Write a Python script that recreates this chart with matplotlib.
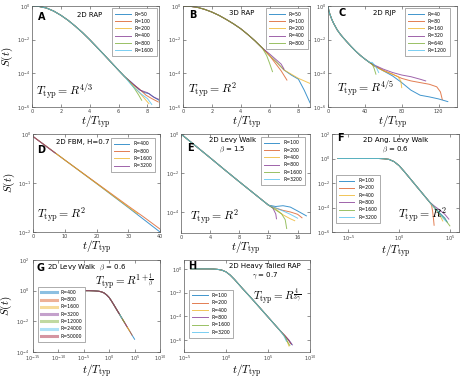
import numpy as np
import matplotlib
matplotlib.use("Agg")
import matplotlib.pyplot as plt
from matplotlib.ticker import NullLocator

plt.rcParams['mathtext.fontset'] = 'cm'
plt.rcParams['font.family'] = 'DejaVu Sans'

# matlab default line colours
COLORS = ["#0072BD", "#D95319", "#EDB120", "#7E2F8E", "#77AC30", "#4DBEEE", "#A2142F"]

# ---- data (x = t/T_typ, y = log10 S(t)); shared body + per-R tail ----
# A: 2D RAP
A_R = [50, 100, 200, 400, 800, 1600]
A_body_x = [0, 0.5, 1, 1.5, 2, 2.5, 3, 3.5, 4, 4.5, 5, 5.5, 6, 6.4]
A_body_y = [0, -0.03, -0.12, -0.3, -0.55, -0.85, -1.2, -1.58, -2.0, -2.45, -2.9, -3.36, -3.82, -4.18]
A_tail_x = [[6.9, 7.4, 7.8, 8.1, 8.5, 8.8], [6.9, 7.4, 7.9, 8.3, 8.75], [6.8, 7.3, 7.8, 8.1],
            [6.9, 7.5, 8.0, 8.4, 8.8], [6.7, 7.1, 7.4, 7.6], [6.8, 7.2, 7.6, 8.0, 8.3]]
A_tail_y = [[-4.55, -4.95, -5.15, -5.2, -5.45, -5.6], [-4.6, -4.9, -5.3, -5.5, -5.7], [-4.5, -5.0, -5.5, -5.8],
            [-4.55, -5.0, -5.15, -5.4, -5.55], [-4.45, -4.9, -5.3, -5.6], [-4.6, -4.95, -5.25, -5.5, -5.85]]

# B: 3D RAP
B_R = [50, 100, 200, 400, 800]
B_body_x = [0, 0.5, 1, 1.5, 2, 2.5, 3, 3.5, 4, 4.5, 5, 5.5]
B_body_y = [0, -0.02, -0.08, -0.2, -0.36, -0.56, -0.8, -1.06, -1.35, -1.7, -2.08, -2.5]
B_tail_x = [[6.0, 6.5, 7.0, 7.5, 8.0, 8.4, 8.8], [6.0, 6.4, 6.8, 7.2], [6.0, 6.5, 7.0, 7.5, 8.0, 8.4, 8.8],
            [6.0, 6.4, 6.8, 7.0], [5.8, 6.0, 6.2]]
B_tail_y = [[-2.95, -3.35, -3.8, -4.1, -4.35, -5.0, -5.75], [-2.95, -3.4, -3.85, -4.4],
            [-2.95, -3.35, -3.8, -4.05, -4.3, -4.45, -4.6], [-2.85, -3.15, -3.45, -3.75], [-2.95, -3.4, -3.9]]

# C: 2D RJP
C_R = [40, 80, 160, 320, 640, 1200]
C_body_x = [0, 1, 2, 4, 6, 8, 10, 13, 16, 20, 25, 30, 35, 40, 45]
C_body_y = [0, -0.3, -0.48, -0.78, -1.02, -1.22, -1.42, -1.65, -1.85, -2.1, -2.4, -2.68, -2.93, -3.15, -3.35]
C_tail_x = [[50, 60, 70, 80, 90, 100, 110, 120, 130], [50, 60, 70, 80, 90, 100, 110, 118, 122, 124],
            [50, 60, 70, 76, 79, 80], [50, 60, 70, 80, 90, 100, 106], [48, 50, 52], [48, 52, 55]]
C_tail_y = [[-3.55, -3.85, -4.15, -4.55, -5.0, -5.3, -5.4, -5.52, -5.68],
            [-3.55, -3.82, -4.05, -4.3, -4.45, -4.55, -4.65, -4.8, -5.1, -5.55],
            [-3.55, -3.85, -4.05, -4.2, -4.45, -4.85], [-3.5, -3.75, -3.95, -4.1, -4.2, -4.35, -4.45],
            [-3.45, -3.7, -4.05], [-3.35, -3.6, -3.95]]

# D: 2D FBM
D_R = [400, 800, 1600, 3200]
D_x = [[0, 10, 20, 30, 35, 40], [0, 10, 20, 30, 35, 40], [0, 10, 20, 30, 33], [0, 7]]
D_y = [[-0.05, -0.53, -1.01, -1.5, -1.75, -2.0], [-0.05, -0.53, -1.0, -1.47, -1.7, -1.94],
       [-0.05, -0.53, -1.01, -1.49, -1.63], [-0.05, -0.39]]

# E: 2D Levy walk beta=1.5
E_R = [100, 200, 400, 800, 1600, 3200]
E_body_x = [0, 2, 4, 6, 8, 10, 11, 12]
E_body_y = [0, -0.61, -1.22, -1.84, -2.45, -3.05, -3.35, -3.65]
E_tail_x = [[13, 14, 15, 16, 17.2], [13, 14, 15, 16, 16.6], [13, 14, 15, 15.6], [12.6, 13.0, 13.1],
            [13, 13.8, 14.3, 14.5], [13, 14, 15, 16]]
E_tail_y = [[-3.72, -3.68, -3.75, -3.95, -4.2], [-3.8, -3.92, -4.0, -4.12, -4.3], [-3.85, -4.15, -4.35, -4.45],
            [-3.8, -4.1, -4.35], [-3.9, -4.1, -4.4, -4.85], [-3.8, -3.95, -4.12, -4.32]]

# F: 2D angular Levy walk (log10 x)
F_R = [100, 200, 400, 800, 1600, 3200]
F_body_x = [-6, -4, -2, -1.5, -1, -0.5, 0, 0.5, 1, 1.5, 2, 2.5, 3]
F_body_y = [0, 0, 0, -0.02, -0.07, -0.25, -0.58, -1.05, -1.55, -2.05, -2.55, -3.05, -3.55]
F_tail_x = [[3.5, 4.0, 4.5, 4.75], [3.2, 3.3, 3.4, 3.45], [3.5, 4.0, 4.3], [3.5, 4.0, 4.5, 4.9],
            [3.5, 4.0, 4.5, 5.0], [3.5, 4.0, 4.3, 4.6]]
F_tail_y = [[-4.0, -4.45, -4.85, -5.2], [-3.8, -4.3, -5.0, -5.45], [-4.05, -4.6, -5.1], [-3.9, -4.2, -4.55, -4.95],
            [-4.0, -4.5, -4.95, -5.5], [-4.05, -4.5, -4.85, -5.1]]

# G: 2D Levy walk beta=0.6 (log10 x), every R follows same curve over its own range
G_R = [400, 800, 1600, 3200, 12000, 24000, 50000]
G_x = [-12.5, -12, -11, -10, -9, -8, -7, -6, -5, -4, -3, -2, -1.5, -1, -0.5, 0,
       0.5, 1, 1.5, 2, 2.5, 3, 3.5, 4, 4.5, 5]
G_y = [0, 0, 0, 0, 0, 0, 0, 0, 0, 0, -0.01, -0.04, -0.08, -0.15, -0.28, -0.45,
       -0.7, -0.97, -1.25, -1.52, -1.8, -2.07, -2.35, -2.62, -2.9, -3.17]
G_start = [-7, -8, -8, -9, -11, -11, -12.5]
G_end = [5, 4.5, 4, 3.5, 3, 2.5, 2]

# H: 2D heavy tailed RAP (log10 x)
H_R = [100, 200, 400, 800, 1600, 3200]
H_body_x = [-4.2, -3, -2, -1.5, -1, -0.5, 0, 0.5, 1, 1.5, 2, 3, 4, 5, 6, 6.5]
H_body_y = [0, 0, 0, -0.01, -0.04, -0.1, -0.25, -0.52, -0.88, -1.28, -1.68, -2.45, -3.25, -4.05, -4.85, -5.25]
H_tail_x = [[7, 7.5, 7.8], [7, 7.4, 7.7], [7, 7.3, 7.5], [7, 7.5, 7.9], [7, 7.3, 7.6], [6.9, 7.2]]
H_tail_y = [[-5.65, -6.05, -6.35], [-5.6, -5.95, -6.3], [-5.7, -6.15, -6.5], [-5.62, -6.0, -6.4],
            [-5.7, -6.1, -6.45], [-5.65, -6.1]]


W, H = 463.0, 382.0


def px_axes(fig, l, r, t, b, logx=False):
    ax = fig.add_axes([l / W, 1 - b / H, (r - l) / W, (b - t) / H])
    ax.set_yscale('log')
    if logx:
        ax.set_xscale('log')
    return ax


def style(ax, ylabel=False, xlabelpad=-0.5):
    ax.xaxis.set_minor_locator(NullLocator())
    ax.yaxis.set_minor_locator(NullLocator())
    ax.tick_params(direction='in', length=2, width=0.4, labelsize=3.5, colors='0.25',
                   top=True, right=True, pad=1.5)
    for s in ax.spines.values():
        s.set_linewidth(0.5)
        s.set_color('0.35')
    ax.set_xlabel(r'$t/T_{\rm typ}$', fontsize=8, labelpad=xlabelpad)
    if ylabel:
        ax.set_ylabel(r'$S(t)$', fontsize=8, labelpad=1)


def plot_series(ax, labels, xs, ys, logx=False, lw=0.7, alpha=0.75):
    for i, lab in enumerate(labels):
        x = np.array(xs[i], dtype=float)
        y = 10 ** np.array(ys[i], dtype=float)
        if logx:
            x = 10 ** x
        ax.plot(x, y, color=COLORS[i], lw=lw, alpha=alpha, label='R=%d' % lab)


def legend(ax, loc, anchor, handlelw=None):
    leg = ax.legend(loc=loc, bbox_to_anchor=anchor, fontsize=3.3, handlelength=3.4,
                    labelspacing=0.5, borderpad=0.7, handletextpad=0.8, fancybox=False,
                    edgecolor='0.55', framealpha=1)
    leg.get_frame().set_linewidth(0.5)
    if handlelw:
        for h in leg.get_lines():
            h.set_linewidth(handlelw)
            h.set_alpha(0.45)


def join(body_x, body_y, tx, ty):
    return [body_x + t for t in tx], [body_y + t for t in ty]


fig = plt.figure(figsize=(W / 100, H / 100), dpi=100)

# A
ax = px_axes(fig, 32, 159, 6, 107)
xs, ys = join(A_body_x, A_body_y, A_tail_x, A_tail_y)
plot_series(ax, A_R, xs, ys)
ax.set_xlim(0, 8.8)
ax.set_ylim(1e-6, 1)
ax.set_xticks([0, 2, 4, 6, 8])
ax.set_yticks([1e-6, 1e-4, 1e-2, 1])
style(ax, ylabel=True)
legend(ax, 'upper right', (1.0, 1.0))
ax.text(0.05, 0.89, 'A', transform=ax.transAxes, fontsize=7, fontweight='bold', va='center')
ax.text(0.45, 0.91, '2D RAP', transform=ax.transAxes, fontsize=5, ha='center', va='center')
ax.text(0.03, 0.15, r'$T_{\rm typ}=R^{4/3}$', transform=ax.transAxes, fontsize=8.5, va='center')

# B
ax = px_axes(fig, 183, 310, 6, 107)
xs, ys = join(B_body_x, B_body_y, B_tail_x, B_tail_y)
plot_series(ax, B_R, xs, ys)
ax.set_xlim(0, 8.8)
ax.set_ylim(1e-6, 1)
ax.set_xticks([0, 2, 4, 6, 8])
ax.set_yticks([1e-6, 1e-4, 1e-2, 1])
style(ax)
legend(ax, 'upper right', (1.0, 1.0))
ax.text(0.05, 0.91, 'B', transform=ax.transAxes, fontsize=7, fontweight='bold', va='center')
ax.text(0.46, 0.93, '3D RAP', transform=ax.transAxes, fontsize=5, ha='center', va='center')
ax.text(0.04, 0.17, r'$T_{\rm typ}=R^{2}$', transform=ax.transAxes, fontsize=8.5, va='center')

# C
ax = px_axes(fig, 328, 457, 6, 107)
xs, ys = join(C_body_x, C_body_y, C_tail_x, C_tail_y)
plot_series(ax, C_R, xs, ys)
ax.set_xlim(0, 140)
ax.set_ylim(1e-6, 1)
ax.set_xticks([0, 40, 80, 120])
ax.set_yticks([1e-6, 1e-4, 1e-2, 1])
style(ax)
legend(ax, 'upper right', (0.96, 1.0))
ax.text(0.08, 0.93, 'C', transform=ax.transAxes, fontsize=7, fontweight='bold', va='center')
ax.text(0.44, 0.93, '2D RJP', transform=ax.transAxes, fontsize=5, ha='center', va='center')
ax.text(0.07, 0.18, r'$T_{\rm typ}=R^{4/5}$', transform=ax.transAxes, fontsize=8.5, va='center')

# D
ax = px_axes(fig, 33, 160, 134, 232)
plot_series(ax, D_R, D_x, D_y)
ax.set_xlim(0, 40)
ax.set_ylim(1e-2, 1)
ax.set_xticks([0, 10, 20, 30, 40])
ax.set_yticks([1e-2, 1e-1, 1])
style(ax, ylabel=True)
legend(ax, 'upper right', (0.98, 0.98))
ax.text(0.03, 0.84, 'D', transform=ax.transAxes, fontsize=7, fontweight='bold', va='center')
ax.text(0.39, 0.92, '2D FBM, H=0.7', transform=ax.transAxes, fontsize=5, ha='center', va='center')
ax.text(0.03, 0.17, r'$T_{\rm typ}=R^{2}$', transform=ax.transAxes, fontsize=8.5, va='center')

# E
ax = px_axes(fig, 181, 310, 134, 233)
xs, ys = join(E_body_x, E_body_y, E_tail_x, E_tail_y)
plot_series(ax, E_R, xs, ys)
ax.set_xlim(0, 17.7)
ax.set_ylim(10 ** -5.08, 1)
ax.set_xticks([0, 4, 8, 12, 16])
ax.set_yticks([1e-4, 1e-2, 1])
style(ax)
legend(ax, 'upper right', (0.98, 0.99))
ax.text(0.05, 0.86, 'E', transform=ax.transAxes, fontsize=7, fontweight='bold', va='center')
ax.text(0.40, 0.94, '2D Levy Walk', transform=ax.transAxes, fontsize=5, ha='center', va='center')
ax.text(0.40, 0.84, r'$\beta$ = 1.5', transform=ax.transAxes, fontsize=5, ha='center', va='center')
ax.text(0.07, 0.16, r'$T_{\rm typ}=R^{2}$', transform=ax.transAxes, fontsize=8.5, va='center')

# F
ax = px_axes(fig, 332, 459, 134, 232, logx=True)
xs, ys = join(F_body_x, F_body_y, F_tail_x, F_tail_y)
plot_series(ax, F_R, xs, ys, logx=True)
ax.set_xlim(10 ** -6.6, 10 ** 5.9)
ax.set_ylim(1e-6, 1e2)
ax.set_xticks([1e-5, 1, 1e5])
ax.set_yticks([1e-6, 1e-4, 1e-2, 1, 1e2])
style(ax)
legend(ax, 'lower left', (0.01, 0.07))
ax.text(0.04, 0.96, 'F', transform=ax.transAxes, fontsize=7, fontweight='bold', va='center')
ax.text(0.50, 0.94, '2D Ang. Levy Walk', transform=ax.transAxes, fontsize=5, ha='center', va='center')
ax.text(0.50, 0.84, r'$\beta$ = 0.6', transform=ax.transAxes, fontsize=5, ha='center', va='center')
ax.text(0.52, 0.17, r'$T_{\rm typ}=R^{2}$', transform=ax.transAxes, fontsize=8.5, va='center')

# G
ax = px_axes(fig, 33, 160, 260, 352, logx=True)
gx = np.array(G_x)
gy = np.array(G_y)
xs = [gx[(gx >= s) & (gx <= e)] for s, e in zip(G_start, G_end)]
ys = [gy[(gx >= s) & (gx <= e)] for s, e in zip(G_start, G_end)]
plot_series(ax, G_R, xs, ys, logx=True)
ax.set_xlim(1e-15, 1e10)
ax.set_ylim(1e-4, 1e2)
ax.set_xticks([1e-15, 1e-10, 1e-5, 1, 1e5, 1e10])
ax.set_yticks([1e-4, 1e-2, 1, 1e2])
style(ax, ylabel=True)
ax.tick_params(axis='y', pad=3)
legend(ax, 'lower left', (0.02, 0.086), handlelw=2.2)
ax.text(0.03, 0.91, 'G', transform=ax.transAxes, fontsize=7, fontweight='bold', va='center')
ax.text(0.42, 0.91, r'2D Levy Walk  $\beta$ = 0.6', transform=ax.transAxes, fontsize=5,
        ha='center', va='center')
ax.text(0.49, 0.76, r'$T_{\rm typ}=R^{1+\frac{1}{\beta}}$', transform=ax.transAxes, fontsize=8,
        va='center')

# H
ax = px_axes(fig, 184, 310, 260, 352, logx=True)
xs, ys = join(H_body_x, H_body_y, H_tail_x, H_tail_y)
plot_series(ax, H_R, xs, ys, logx=True)
ax.set_xlim(1e-5, 1e10)
ax.set_ylim(1e-7, 10 ** 0.75)
ax.set_xticks([1e-5, 1, 1e5, 1e10])
ax.set_yticks([1e-6, 1e-4, 1e-2, 1])
style(ax)
legend(ax, 'lower left', (0.02, 0.13))
ax.text(0.03, 0.93, 'H', transform=ax.transAxes, fontsize=7, fontweight='bold', va='center')
ax.text(0.64, 0.94, '2D Heavy Tailed RAP', transform=ax.transAxes, fontsize=5, ha='center', va='center')
ax.text(0.64, 0.83, r'$\gamma$ = 0.7', transform=ax.transAxes, fontsize=5, ha='center', va='center')
ax.text(0.55, 0.59, r'$T_{\rm typ}=R^{\frac{4}{3\gamma}}$', transform=ax.transAxes, fontsize=8,
        va='center')

fig.savefig('out.png', dpi=100)
